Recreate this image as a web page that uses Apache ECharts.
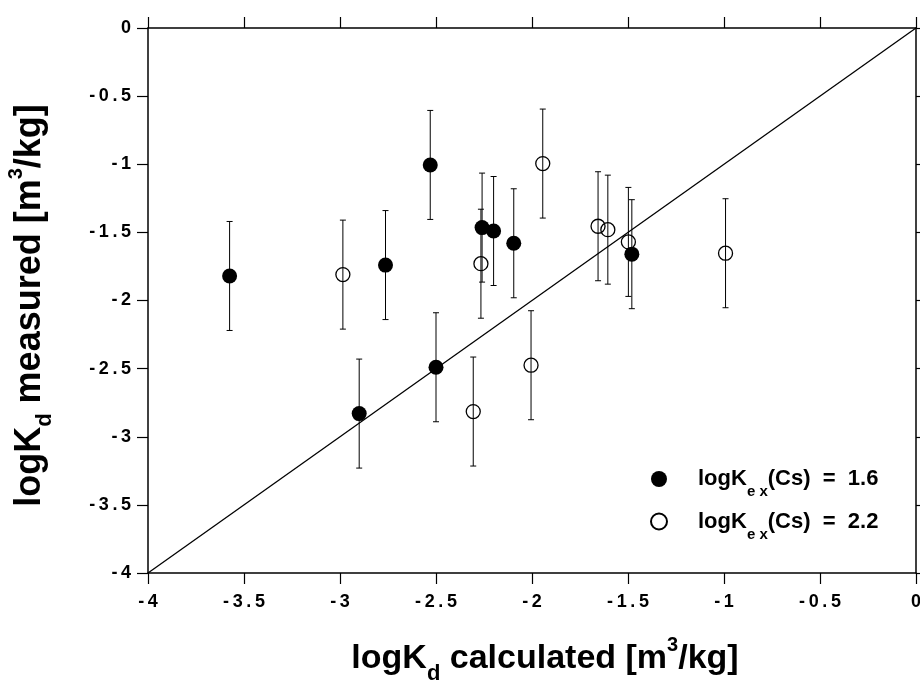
<!DOCTYPE html>
<html>
<head>
<meta charset="utf-8">
<script src="https://cdn.jsdelivr.net/npm/echarts@6/dist/echarts.min.js"></script>
<style>
html,body{margin:0;padding:0;background:#fff;}
#chart{width:920px;height:684px;}
</style>
</head>
<body>
<div id="chart"></div>
<script>
// ---- data ----
const xCalc16 = [-3.575, -2.90, -2.763, -2.53, -2.50, -2.26, -2.20, -2.095, -1.48];
const yMeas16 = [-1.82, -2.83, -1.74, -1.005, -2.49, -1.465, -1.49, -1.58, -1.66];
const err16   = [0.4, 0.4, 0.4, 0.4, 0.4, 0.4, 0.4, 0.4, 0.4];

const xCalc22 = [-2.985, -2.306, -2.266, -2.005, -1.944, -1.656, -1.605, -1.498, -0.992];
const yMeas22 = [-1.81, -2.815, -1.73, -2.475, -0.995, -1.455, -1.48, -1.57, -1.653];
const err22   = [0.4, 0.4, 0.4, 0.4, 0.4, 0.4, 0.4, 0.4, 0.4];

const diagX = [-4, 0];
const diagY = [-4, 0];

const seriesNames = ['logKex(Cs) = 1.6', 'logKex(Cs) = 2.2'];
const legendValues = ['1.6', '2.2'];

const axisMin = -4, axisMax = 0, axisStep = 0.5;

// ---- build ----
const FONT = 'Liberation Sans, Arial, Helvetica, sans-serif';
const pts16 = xCalc16.map((x, i) => [x, yMeas16[i]]);
const pts22 = xCalc22.map((x, i) => [x, yMeas22[i]]);
const bars16 = xCalc16.map((x, i) => [x, yMeas16[i] - err16[i], yMeas16[i] + err16[i]]);
const bars22 = xCalc22.map((x, i) => [x, yMeas22[i] - err22[i], yMeas22[i] + err22[i]]);
const diag = diagX.map((x, i) => [x, diagY[i]]);

function tickFmt(v) { return String(v).split('').join('\u2009'); }

function renderErr(params, api) {
  const x = api.value(0), lo = api.value(1), hi = api.value(2);
  const p1 = api.coord([x, lo]), p2 = api.coord([x, hi]);
  const w = 3;
  const st = { stroke: '#000', lineWidth: 1 };
  return {
    type: 'group',
    children: [
      { type: 'line', shape: { x1: p1[0], y1: p1[1], x2: p2[0], y2: p2[1] }, style: st },
      { type: 'line', shape: { x1: p1[0] - w, y1: p1[1], x2: p1[0] + w, y2: p1[1] }, style: st },
      { type: 'line', shape: { x1: p2[0] - w, y1: p2[1], x2: p2[0] + w, y2: p2[1] }, style: st }
    ]
  };
}

function makeTitleRich(fs) {
  return {
    a: { fontFamily: FONT, fontWeight: 'bold', fontSize: fs, lineHeight: 44, color: '#000' },
    d: { fontFamily: FONT, fontWeight: 'bold', fontSize: 22, lineHeight: 14, height: 14, verticalAlign: 'bottom', color: '#000' },
    u: { fontFamily: FONT, fontWeight: 'bold', fontSize: 20, lineHeight: 16, height: 16, verticalAlign: 'top', color: '#000' },
    sp: { width: 26, height: 10 },
    sp2: { width: 10, height: 10 }
  };
}

const axisLineStyle = { color: '#000', width: 1.5 };
const tickCommon = { show: true, inside: false, length: 11, lineStyle: { color: '#000', width: 1.2 } };
const labelCommon = { fontFamily: FONT, fontWeight: 'bold', fontSize: 18, color: '#000', formatter: tickFmt };

const option = {
  backgroundColor: '#fff',
  animation: false,
  grid: { left: 148, right: 4, top: 28, bottom: 111, containLabel: false, outerBoundsMode: 'none' },
  xAxis: [
    {
      type: 'value', position: 'bottom', min: axisMin, max: axisMax, interval: axisStep,
      axisLine: { show: true, onZero: false, lineStyle: axisLineStyle },
      axisTick: tickCommon,
      axisLabel: Object.assign({ margin: 20, showMinLabel: true, showMaxLabel: true, hideOverlap: false }, labelCommon),
      splitLine: { show: false },
      name: '{sp|}{a|logK}{d|d}{a| calculated [m}{u|3}{a|/kg]}',
      nameLocation: 'middle', nameGap: 64, nameMoveOverlap: false,
      nameTextStyle: { rich: makeTitleRich(34) }
    },
    {
      type: 'value', position: 'top', min: axisMin, max: axisMax, interval: axisStep,
      axisLine: { show: true, onZero: false, lineStyle: axisLineStyle },
      axisTick: tickCommon,
      axisLabel: { show: false },
      splitLine: { show: false }
    }
  ],
  yAxis: [
    {
      type: 'value', position: 'left', min: axisMin, max: axisMax, interval: axisStep,
      axisLine: { show: true, onZero: false, lineStyle: axisLineStyle },
      axisTick: tickCommon,
      axisLabel: Object.assign({ margin: 17, showMinLabel: true, showMaxLabel: true, hideOverlap: false }, labelCommon),
      splitLine: { show: false },
      name: '{a|logK}{d|d}{a| measured [m}{u|3}{a|/kg]}{sp2|}',
      nameLocation: 'middle', nameGap: 96, nameRotate: 90, nameMoveOverlap: false,
      nameTextStyle: { rich: makeTitleRich(36) }
    },
    {
      type: 'value', position: 'right', min: axisMin, max: axisMax, interval: axisStep,
      axisLine: { show: true, onZero: false, lineStyle: axisLineStyle },
      axisTick: tickCommon,
      axisLabel: { show: false },
      splitLine: { show: false }
    }
  ],
  legend: {
    data: seriesNames,
    orient: 'vertical',
    left: 650, top: 468,
    padding: 0,
    itemWidth: 16, itemHeight: 16,
    itemGap: 11,
    selectedMode: false,
    formatter: function (name) {
      const v = legendValues[seriesNames.indexOf(name)];
      return '{g|}{a|logK}{s|e x}{a|(Cs)  =  ' + v + '}';
    },
    textStyle: {
      fontFamily: FONT, fontWeight: 'bold', fontSize: 22, color: '#000',
      rich: {
        g: { width: 26, height: 10 },
        a: { fontFamily: FONT, fontWeight: 'bold', fontSize: 22, lineHeight: 36, color: '#000' },
        s: { fontFamily: FONT, fontWeight: 'bold', fontSize: 15, lineHeight: 10, height: 10, verticalAlign: 'bottom', color: '#000' }
      }
    }
  },
  series: [
    {
      name: 'diagonal', type: 'line', data: diag, xAxisIndex: 0, yAxisIndex: 0,
      symbol: 'none', lineStyle: { color: '#000', width: 1.3 }, z: 1, silent: true
    },
    {
      name: 'err16', type: 'custom', data: bars16, renderItem: renderErr,
      encode: { x: 0, y: [1, 2] }, z: 2, silent: true
    },
    {
      name: 'err22', type: 'custom', data: bars22, renderItem: renderErr,
      encode: { x: 0, y: [1, 2] }, z: 2, silent: true
    },
    {
      name: seriesNames[0], type: 'scatter', data: pts16, symbol: 'circle', symbolSize: 15,
      itemStyle: { color: '#000', borderColor: '#000', borderWidth: 0, opacity: 1 }, z: 3
    },
    {
      name: seriesNames[1], type: 'scatter', data: pts22, symbol: 'circle', symbolSize: 14,
      itemStyle: { color: 'rgba(255,255,255,0)', borderColor: '#000', borderWidth: 1.3, opacity: 1 }, z: 3
    }
  ]
};

const chart = echarts.init(document.getElementById('chart'), null, { renderer: 'canvas' });
chart.setOption(option);
</script>
</body>
</html>
